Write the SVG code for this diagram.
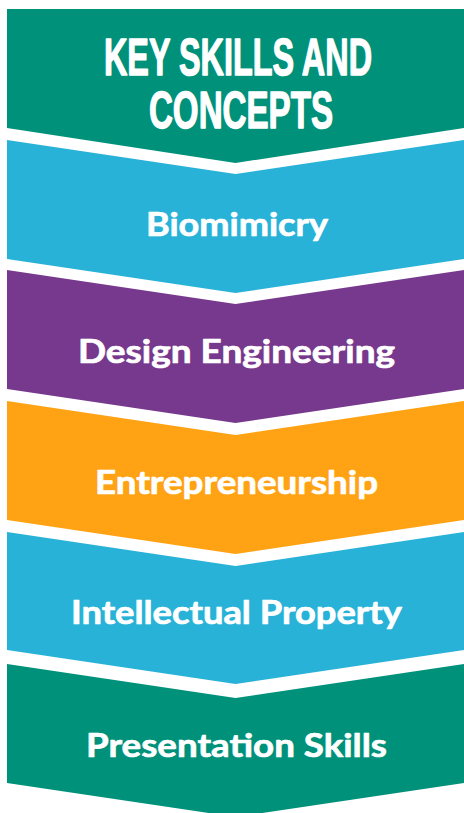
<svg xmlns="http://www.w3.org/2000/svg" width="464" height="813" viewBox="0 0 464 813">
  <style>
    .title { font-family: "Liberation Sans", Arial, sans-serif; font-weight: bold; font-size: 51px; fill: #ffffff; stroke: #ffffff; stroke-width: 1.4px; stroke-linejoin: round; text-anchor: middle; }
    .label { font-family: Lato, "Open Sans", "Liberation Sans", sans-serif; font-weight: bold; font-size: 33px; fill: #ffffff; stroke: #ffffff; stroke-width: 0.7px; stroke-linejoin: round; text-anchor: middle; }
    .green { fill: #00917A; }
    .cyan { fill: #29B2D8; }
    .purple { fill: #77398D; }
    .orange { fill: #FFA315; }
  </style>
  <rect x="0" y="0" width="464" height="813" fill="#ffffff"/>

  <g id="node-title">
    <path class="green" d="M7,9 L464,9 L464,128 L235.5,163 L7,128 Z"/>
    <text class="title" transform="translate(238,75) scale(0.635,1)" x="0" y="0">KEY SKILLS AND</text>
    <text class="title" transform="translate(241,128) scale(0.65,1)" x="0" y="0">CONCEPTS</text>
  </g>

  <g id="node-biomimicry">
    <path class="cyan" d="M7,140 L235.5,174 L464,140 L464,259 L235.5,293 L7,259 Z"/>
    <text class="label" x="237" y="235.7" textLength="182" lengthAdjust="spacingAndGlyphs">Biomimicry</text>
  </g>

  <g id="node-design-engineering">
    <path class="purple" d="M7,270 L235.5,304 L464,270 L464,389 L235.5,423 L7,389 Z"/>
    <text class="label" x="236.5" y="363.3" textLength="317" lengthAdjust="spacingAndGlyphs">Design Engineering</text>
  </g>

  <g id="node-entrepreneurship">
    <path class="orange" d="M7,401 L235.5,435 L464,401 L464,520 L235.5,554 L7,520 Z"/>
    <text class="label" x="236.5" y="494.3" textLength="283" lengthAdjust="spacingAndGlyphs">Entrepreneurship</text>
  </g>

  <g id="node-intellectual-property">
    <path class="cyan" d="M7,532 L235.5,566 L464,532 L464,650 L235.5,684 L7,650 Z"/>
    <text class="label" x="236.5" y="624.3" textLength="331" lengthAdjust="spacingAndGlyphs">Intellectual Property</text>
  </g>

  <g id="node-presentation-skills">
    <path class="green" d="M7,664 L235.5,698 L464,664 L464,783 L235.5,817 L7,783 Z"/>
    <text class="label" x="236.5" y="756.7" textLength="301" lengthAdjust="spacingAndGlyphs">Presentation Skills</text>
  </g>
</svg>
